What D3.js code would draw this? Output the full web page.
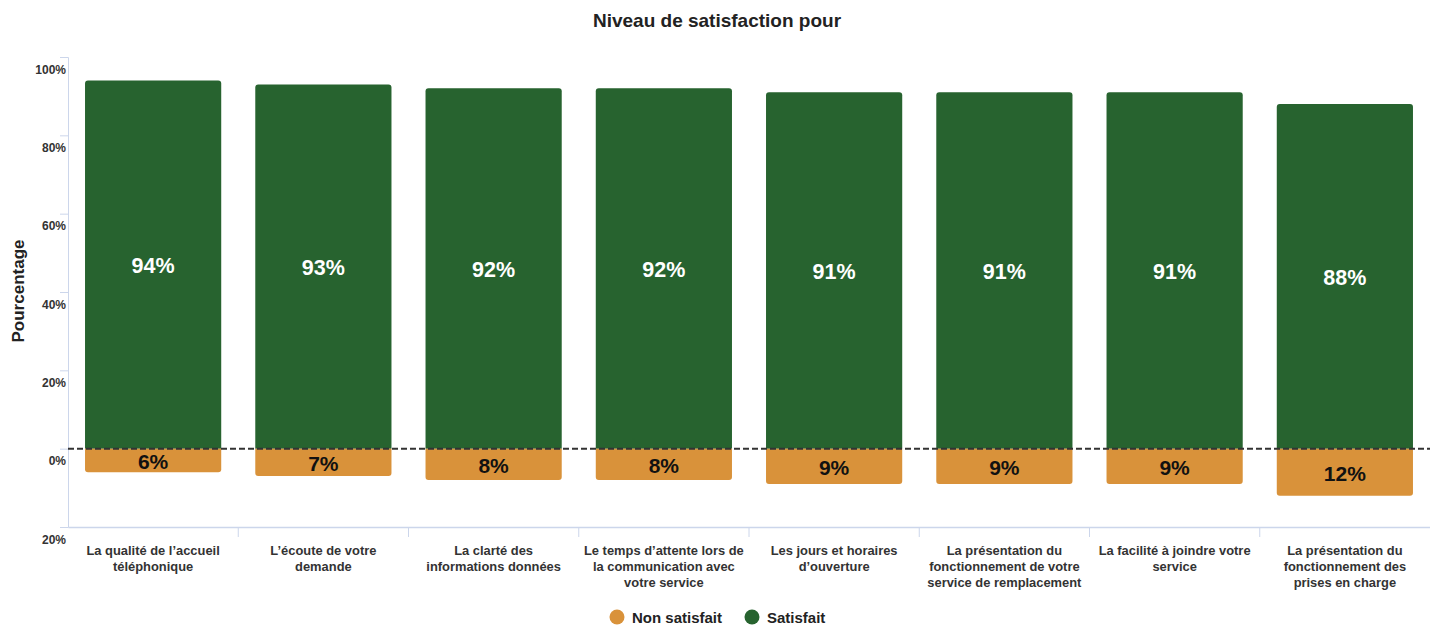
<!DOCTYPE html>
<html><head><meta charset="utf-8">
<script src="https://cdn.jsdelivr.net/npm/d3@7"></script>
<style>body{margin:0;background:#fff;} text{font-family:"Liberation Sans",Arial,sans-serif;}</style>
</head><body><svg id="c" width="1430" height="632"></svg>
<script>
const categories = [
  "La qualité de l’accueil\ntéléphonique",
  "L’écoute de votre\ndemande",
  "La clarté des\ninformations données",
  "Le temps d’attente lors de\nla communication avec\nvotre service",
  "Les jours et horaires\nd’ouverture",
  "La présentation du\nfonctionnement de votre\nservice de remplacement",
  "La facilité à joindre votre\nservice",
  "La présentation du\nfonctionnement des\nprises en charge"
];
const satisfait = [94, 93, 92, 92, 91, 91, 91, 88];
const nonSatisfait = [6, 7, 8, 8, 9, 9, 9, 12];
const yTicks = [-20, 0, 20, 40, 60, 80, 100];
const seriesNames = ["Non satisfait", "Satisfait"];
const colors = {"Non satisfait": "#d9923a", "Satisfait": "#27632f"};

const svg = d3.select("#c");
const mLeft = 68, mRight = 1430, mTop = 57, mBottom = 527;
const x = d3.scaleBand().domain(categories).range([mLeft, mRight]).paddingInner(0.2).paddingOuter(0.1);
const y = d3.scaleLinear().domain([-20, 100]).range([mBottom, mTop]);
const axisColor = "#ccd6eb";

// title
svg.append("text").attr("x", 717).attr("y", 27).attr("text-anchor", "middle")
  .style("font-size", "19px").style("font-weight", "bold").attr("fill", "#222")
  .text("Niveau de satisfaction pour");

// y axis
const yAxis = d3.axisLeft(y).tickValues(yTicks).tickSize(8).tickFormat(d => Math.abs(d) + "%");
const gy = svg.append("g").attr("transform", `translate(${mLeft},0)`).call(yAxis);
gy.select(".domain").attr("stroke", axisColor);
gy.selectAll(".tick line").attr("stroke", axisColor);
gy.selectAll(".tick text").attr("fill", "#333").style("font-size", "12px").style("font-weight", "bold")
  .attr("x", -2).attr("dy", "1.35em");

svg.append("text").attr("transform", "translate(24,291) rotate(-90)").attr("text-anchor", "middle")
  .style("font-size", "17px").style("font-weight", "bold").attr("fill", "#222").text("Pourcentage");

// x axis
const gx = svg.append("g").attr("transform", `translate(0,${mBottom})`)
  .call(d3.axisBottom(x).tickSize(0).tickFormat(""));
gx.select(".domain").attr("stroke", axisColor).attr("stroke-width", 1.5);
const bounds = d3.range(categories.length + 1).map(i => mLeft + i * x.step());
svg.append("g").selectAll("line").data(bounds.slice(1, -1)).join("line")
  .attr("x1", d => d).attr("x2", d => d).attr("y1", mBottom).attr("y2", mBottom + 10)
  .attr("stroke", axisColor);

// category labels
categories.forEach((c, i) => {
  const t = svg.append("text").attr("text-anchor", "middle")
    .attr("x", x(c) + x.bandwidth() / 2).attr("y", 555)
    .style("font-size", "12.9px").style("font-weight", "bold").attr("fill", "#333");
  c.split("\n").forEach((l, j) => {
    t.append("tspan").attr("x", x(c) + x.bandwidth() / 2).attr("dy", j === 0 ? 0 : 16).text(l);
  });
});

function roundedRect(x0, y0, w, h, r, topRound) {
  if (topRound) {
    return `M${x0},${y0 + h}V${y0 + r}Q${x0},${y0} ${x0 + r},${y0}H${x0 + w - r}Q${x0 + w},${y0} ${x0 + w},${y0 + r}V${y0 + h}Z`;
  }
  return `M${x0},${y0}V${y0 + h - r}Q${x0},${y0 + h} ${x0 + r},${y0 + h}H${x0 + w - r}Q${x0 + w},${y0 + h} ${x0 + w},${y0 + h - r}V${y0}Z`;
}

// bars
const g = svg.append("g");
g.selectAll("path.sat").data(categories).join("path").attr("class", "sat")
  .attr("d", (c, i) => roundedRect(x(c), y(satisfait[i]), x.bandwidth(), y(0) - y(satisfait[i]), 3, true))
  .attr("fill", colors["Satisfait"]);
g.selectAll("path.non").data(categories).join("path").attr("class", "non")
  .attr("d", (c, i) => roundedRect(x(c), y(0), x.bandwidth(), y(-nonSatisfait[i]) - y(0), 3, false))
  .attr("fill", colors["Non satisfait"]);

// data labels
g.selectAll("text.sl").data(categories).join("text").attr("class", "sl")
  .attr("x", c => x(c) + x.bandwidth() / 2)
  .attr("y", (c, i) => (y(satisfait[i]) + y(0)) / 2 + 1).attr("dy", "0.35em")
  .attr("text-anchor", "middle").style("font-size", "21.5px").style("font-weight", "bold")
  .attr("fill", "#fff").text((c, i) => satisfait[i] + "%");
g.selectAll("text.nl").data(categories).join("text").attr("class", "nl")
  .attr("x", c => x(c) + x.bandwidth() / 2)
  .attr("y", (c, i) => (y(-nonSatisfait[i]) + y(0)) / 2 + 1).attr("dy", "0.35em")
  .attr("text-anchor", "middle").style("font-size", "21px").style("font-weight", "bold")
  .attr("fill", "#111").text((c, i) => nonSatisfait[i] + "%");

// dashed zero line
svg.append("line").attr("x1", mLeft).attr("x2", mRight).attr("y1", y(0)).attr("y2", y(0))
  .attr("stroke", "#333").attr("stroke-width", 2).attr("stroke-dasharray", "6,3");

// legend
const legendPos = [617, 752];
seriesNames.forEach((s, i) => {
  svg.append("circle").attr("cx", legendPos[i]).attr("cy", 617).attr("r", 7.5).attr("fill", colors[s]);
  svg.append("text").attr("x", legendPos[i] + 15).attr("y", 618).attr("dy", "0.35em")
    .style("font-size", "15px").style("font-weight", "bold").attr("fill", "#222").text(s);
});
</script></body></html>
